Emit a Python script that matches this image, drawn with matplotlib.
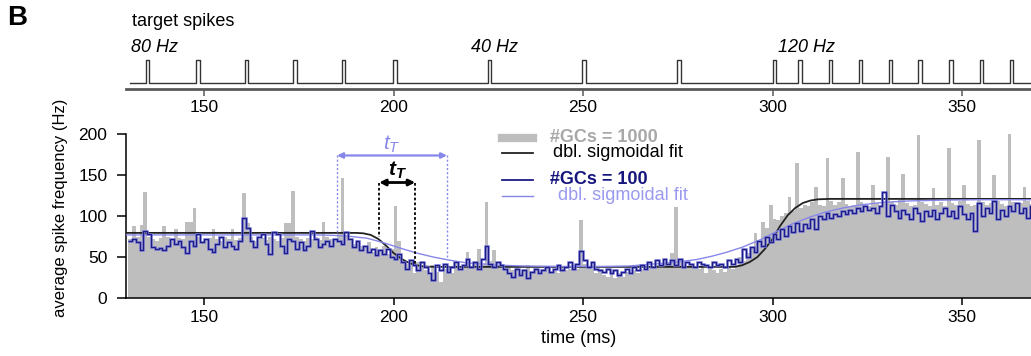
import matplotlib.pyplot as plt
import numpy as np
from matplotlib.lines import Line2D

# ---- data ----
# 1 ms bins starting at 130 ms
bin_start = 130
gc1000 = [
    72, 88, 74, 89, 130, 74, 72, 70, 73, 88,      # 130
    74, 71, 84, 73, 72, 93, 93, 110, 74, 70,      # 140
    72, 73, 84, 72, 70, 74, 72, 84, 71, 73,       # 150
    128, 91, 74, 70, 72, 73, 71, 74, 72, 70,      # 160
    73, 92, 92, 131, 74, 72, 70, 73, 72, 74,      # 170
    71, 93, 75, 72, 70, 78, 146, 77, 70, 66,      # 180
    71, 64, 62, 68, 56, 62, 58, 63, 54, 60,       # 190
    112, 70, 45, 42, 47, 30, 44, 38, 34, 28,      # 200
    40, 32, 20, 36, 38, 30, 42, 36, 40, 56,       # 210
    38, 44, 60, 42, 117, 45, 58, 40, 42, 36,      # 220
    40, 34, 38, 30, 36, 40, 33, 37, 28, 35,       # 230
    38, 32, 36, 30, 38, 34, 36, 40, 36, 95,       # 240
    42, 38, 35, 30, 36, 28, 26, 34, 25, 30,       # 250
    26, 32, 28, 34, 30, 36, 33, 38, 35, 40,       # 260
    37, 42, 40, 55, 111, 44, 40, 38, 42, 36,      # 270
    35, 38, 30, 36, 34, 30, 35, 32, 38, 36,       # 280
    40, 50, 45, 55, 62, 79, 70, 93, 85, 113,      # 290
    96, 95, 100, 104, 123, 106, 165, 110, 114, 112,   # 300
    117, 135, 114, 112, 171, 118, 114, 117, 147, 115,  # 310
    112, 114, 178, 117, 114, 112, 138, 116, 114, 118,  # 320
    172, 117, 114, 120, 152, 116, 112, 114, 199, 117,  # 330
    115, 112, 134, 114, 117, 112, 183, 116, 114, 118,  # 340
    138, 115, 112, 114, 193, 117, 114, 116, 150, 118,  # 350
    115, 112, 200, 117, 114, 116, 135, 118, 115, 114,  # 360
]
gc100 = [
    70, 72, 68, 58, 82, 78, 62, 60, 61, 58,       # 130
    64, 72, 66, 70, 62, 55, 70, 64, 78, 68,       # 140
    72, 60, 56, 66, 74, 62, 68, 64, 60, 70,       # 150
    98, 86, 70, 62, 74, 78, 66, 54, 80, 78,       # 160
    64, 55, 72, 70, 60, 68, 58, 64, 82, 72,       # 170
    62, 66, 70, 64, 72, 70, 66, 80, 72, 62,       # 180
    70, 58, 64, 56, 60, 52, 58, 54, 60, 50,       # 190
    48, 54, 44, 36, 46, 40, 34, 44, 38, 30,       # 200
    22, 40, 34, 42, 32, 38, 44, 36, 40, 48,       # 210
    38, 44, 36, 48, 63, 42, 38, 44, 40, 36,       # 220
    30, 26, 36, 28, 34, 24, 32, 36, 30, 34,       # 230
    38, 32, 36, 40, 34, 38, 44, 36, 42, 57,       # 240
    46, 38, 44, 36, 34, 32, 36, 30, 34, 28,       # 250
    32, 36, 30, 38, 34, 40, 36, 44, 38, 46,       # 260
    40, 48, 42, 46, 40, 48, 38, 44, 42, 38,       # 270
    44, 42, 40, 38, 44, 40, 42, 38, 46, 42,       # 280
    48, 44, 60, 50, 62, 56, 70, 64, 74, 68,       # 290
    78, 72, 84, 76, 88, 80, 92, 82, 90, 86,       # 300
    96, 84, 100, 96, 104, 98, 102, 100, 106, 102,  # 310
    108, 104, 110, 106, 112, 108, 110, 104, 112, 130,  # 320
    100, 114, 106, 98, 108, 102, 96, 110, 104, 94,  # 330
    106, 100, 108, 96, 104, 110, 100, 106, 98, 112,  # 340
    102, 96, 104, 82, 116, 100, 110, 104, 118, 96,  # 350
    108, 100, 112, 106, 116, 104, 110, 98, 112, 106,  # 360
]

# double sigmoidal fits, read as (time, rate) points
fit1000_t = [129, 190, 192, 194, 196, 198, 200, 202, 204, 206, 208, 211, 290, 292,
             294, 296, 298, 300, 302, 304, 306, 308, 310, 312, 315, 369]
fit1000_v = [79.5, 79.5, 79, 77, 72, 64, 55, 48, 43, 40, 38.5, 38, 38, 40,
             44, 50, 60, 72, 88, 101, 110, 116, 119, 120.5, 121, 121]
fit100_t = [129, 180, 184, 188, 193, 197, 201.7, 206, 210.5, 215, 219, 224, 228, 235,
            245, 255, 262, 266, 270, 275, 280, 284, 288, 292, 296.7, 301, 305, 310,
            314, 318.7, 323, 327.6, 332, 336, 345, 354, 369]
fit100_v = [77, 77, 76.5, 75.5, 73, 68, 61, 55, 50, 46, 43, 41.5, 40, 39,
            38.5, 38.5, 39, 40.5, 42, 44, 47, 51, 56, 62, 71, 81, 90, 99,
            105, 110, 113.5, 116, 117.5, 118.5, 119.5, 120, 120]

target_spikes = [134.7, 147.9, 160.8, 173.5, 186.4, 199.9, 224.9, 249.8, 274.9,
                 300.0, 306.8, 314.9, 322.8, 330.6, 338.5, 346.6, 354.7, 362.6]
rate_labels = ['80 Hz', '40 Hz', '120 Hz']

# transition widths (ms): light = #GCs 100, dark = #GCs 1000
tT_100 = (185.1, 214.1)
tT_1000 = (196.2, 205.7)

xticks = [150, 200, 250, 300, 350]
yticks = [0, 50, 100, 150, 200]

# ---- style ----
plt.rcParams['font.family'] = ['Liberation Sans', 'DejaVu Sans']
plt.rcParams['mathtext.fontset'] = 'custom'
plt.rcParams['mathtext.it'] = 'Liberation Sans:italic'
plt.rcParams['mathtext.rm'] = 'Liberation Sans'
plt.rcParams['mathtext.bf'] = 'Liberation Sans:bold'
plt.rcParams['mathtext.bfit'] = 'Liberation Sans:italic:bold'

GRAY = '#bebebe'
NAVY = '#1c1c86'
LIGHT = '#8787ea'
W, H = 1031, 356


def fx(px):
    return px / W


def fy(py):
    return 1 - py / H


fig = plt.figure(figsize=(W / 100, H / 100), dpi=100)
xlim = (129.4, 368.2)

# main panel
ax = fig.add_axes([fx(126), fy(298), 1 - fx(126), (298 - 126) / H])
edges = np.arange(bin_start, bin_start + len(gc1000) + 1)
ax.stairs(gc1000, edges, fill=True, color=GRAY, lw=0, zorder=1)
ax.plot(fit1000_t, fit1000_v, color='#222222', lw=1.3, zorder=3)
ax.plot(fit100_t, fit100_v, color=LIGHT, lw=1.0, zorder=3)
ax.stairs(gc100, edges, baseline=None, color='#7a7ad8', lw=1.8, zorder=4)
ax.stairs(gc100, edges, baseline=None, color=NAVY, lw=0.9, zorder=5)

ax.set_xlim(*xlim)
ax.set_ylim(0, 210)
ax.set_xticks(xticks)
ax.set_yticks(yticks)
for s in ['top', 'right']:
    ax.spines[s].set_visible(False)
ax.spines['left'].set_bounds(0, 200)
ax.spines['left'].set_linewidth(1.1)
ax.spines['bottom'].set_linewidth(1.1)
ax.tick_params(axis='x', length=5, width=1.1, pad=4, labelsize=12.5)
ax.tick_params(axis='y', length=6.5, width=1.1, pad=7, labelsize=12.5)
ax.set_xlabel('time (ms)', fontsize=13, labelpad=3)
fig.text(fx(60), fy(208), 'average spike frequency (Hz)', rotation=90,
         ha='center', va='center', fontsize=12)

# transition-time annotations
yb, yk = 174, 141
ax.plot([tT_100[0]] * 2, [yb, 78], ls=(0, (1.5, 1.5)), color=LIGHT, lw=1.0, zorder=6)
ax.plot([tT_100[1]] * 2, [yb, 50], ls=(0, (1.5, 1.5)), color=LIGHT, lw=1.0, zorder=6)
ax.annotate('', xy=(tT_100[1], yb), xytext=(tT_100[0], yb),
            arrowprops=dict(arrowstyle='<|-|>', color=LIGHT, lw=1.6,
                            mutation_scale=8, shrinkA=0, shrinkB=0), zorder=6)
ax.text(np.mean(tT_100), 188, r'$t_T$', color=LIGHT, fontsize=15,
        ha='center', va='center')
ax.plot([tT_1000[0]] * 2, [yk, 74], ls=(0, (1.5, 1.2)), color='k', lw=1.3, zorder=6)
ax.plot([tT_1000[1]] * 2, [yk, 42], ls=(0, (1.5, 1.2)), color='k', lw=1.3, zorder=6)
ax.annotate('', xy=(tT_1000[1], yk), xytext=(tT_1000[0], yk),
            arrowprops=dict(arrowstyle='<|-|>', color='k', lw=2.0,
                            mutation_scale=9, shrinkA=0, shrinkB=0), zorder=6)
ax.text(np.mean(tT_1000), 156, r'$\mathbfit{t_T}$', color='k', fontsize=15,
        ha='center', va='center')

# legend, drawn by hand
legend_rows = [
    (138, GRAY, 6, '#GCs = 1000', '#a8a8a8', 'bold', 550),
    (153, '#222222', 1.3, 'dbl. sigmoidal fit', 'black', 'normal', 553),
    (180, NAVY, 1.3, '#GCs = 100', '#15157d', 'bold', 550),
    (196, LIGHT, 1.0, 'dbl. sigmoidal fit', '#9a9af0', 'normal', 558),
]
for py, lc, lw, label, tc, wt, tx in legend_rows:
    fig.add_artist(Line2D([fx(502), fx(533)], [fy(py)] * 2, color=lc, lw=lw))
    fig.text(fx(tx), fy(py - 0.5), label, color=tc, fontweight=wt, fontsize=13,
             ha='left', va='center')

# target spike train panel
axt = fig.add_axes([fx(126), fy(89), 1 - fx(126), (89 - 56) / H])
xs, ys = [130.5], [0]
for s in target_spikes:
    xs += [s, s, s + 0.9, s + 0.9]
    ys += [0, 1, 1, 0]
xs.append(xlim[1])
ys.append(0)
axt.plot(xs, ys, color='#333333', lw=1.0, clip_on=False)
axt.set_xlim(*xlim)
axt.set_ylim(-6 / 23, 27 / 23)
axt.set_xticks(xticks)
axt.set_yticks([])
for s in ['top', 'right', 'left']:
    axt.spines[s].set_visible(False)
axt.spines['bottom'].set_color('0.35')
axt.spines['bottom'].set_linewidth(2.0)
axt.tick_params(axis='x', length=5, width=1.1, color='0.35', pad=3, labelsize=12.5)
axt.patch.set_alpha(0)

fig.text(fx(132), fy(22), 'target spikes', fontsize=13, va='center')
for (px, ha), lab in zip([(131, 'left'), (518, 'right'), (778, 'left')], rate_labels):
    fig.text(fx(px), fy(48), lab, fontsize=13, style='italic', ha=ha, va='center')
fig.text(fx(7), fy(18), 'B', fontsize=20, fontweight='bold', va='center')

fig.savefig('out.png', dpi=100)
